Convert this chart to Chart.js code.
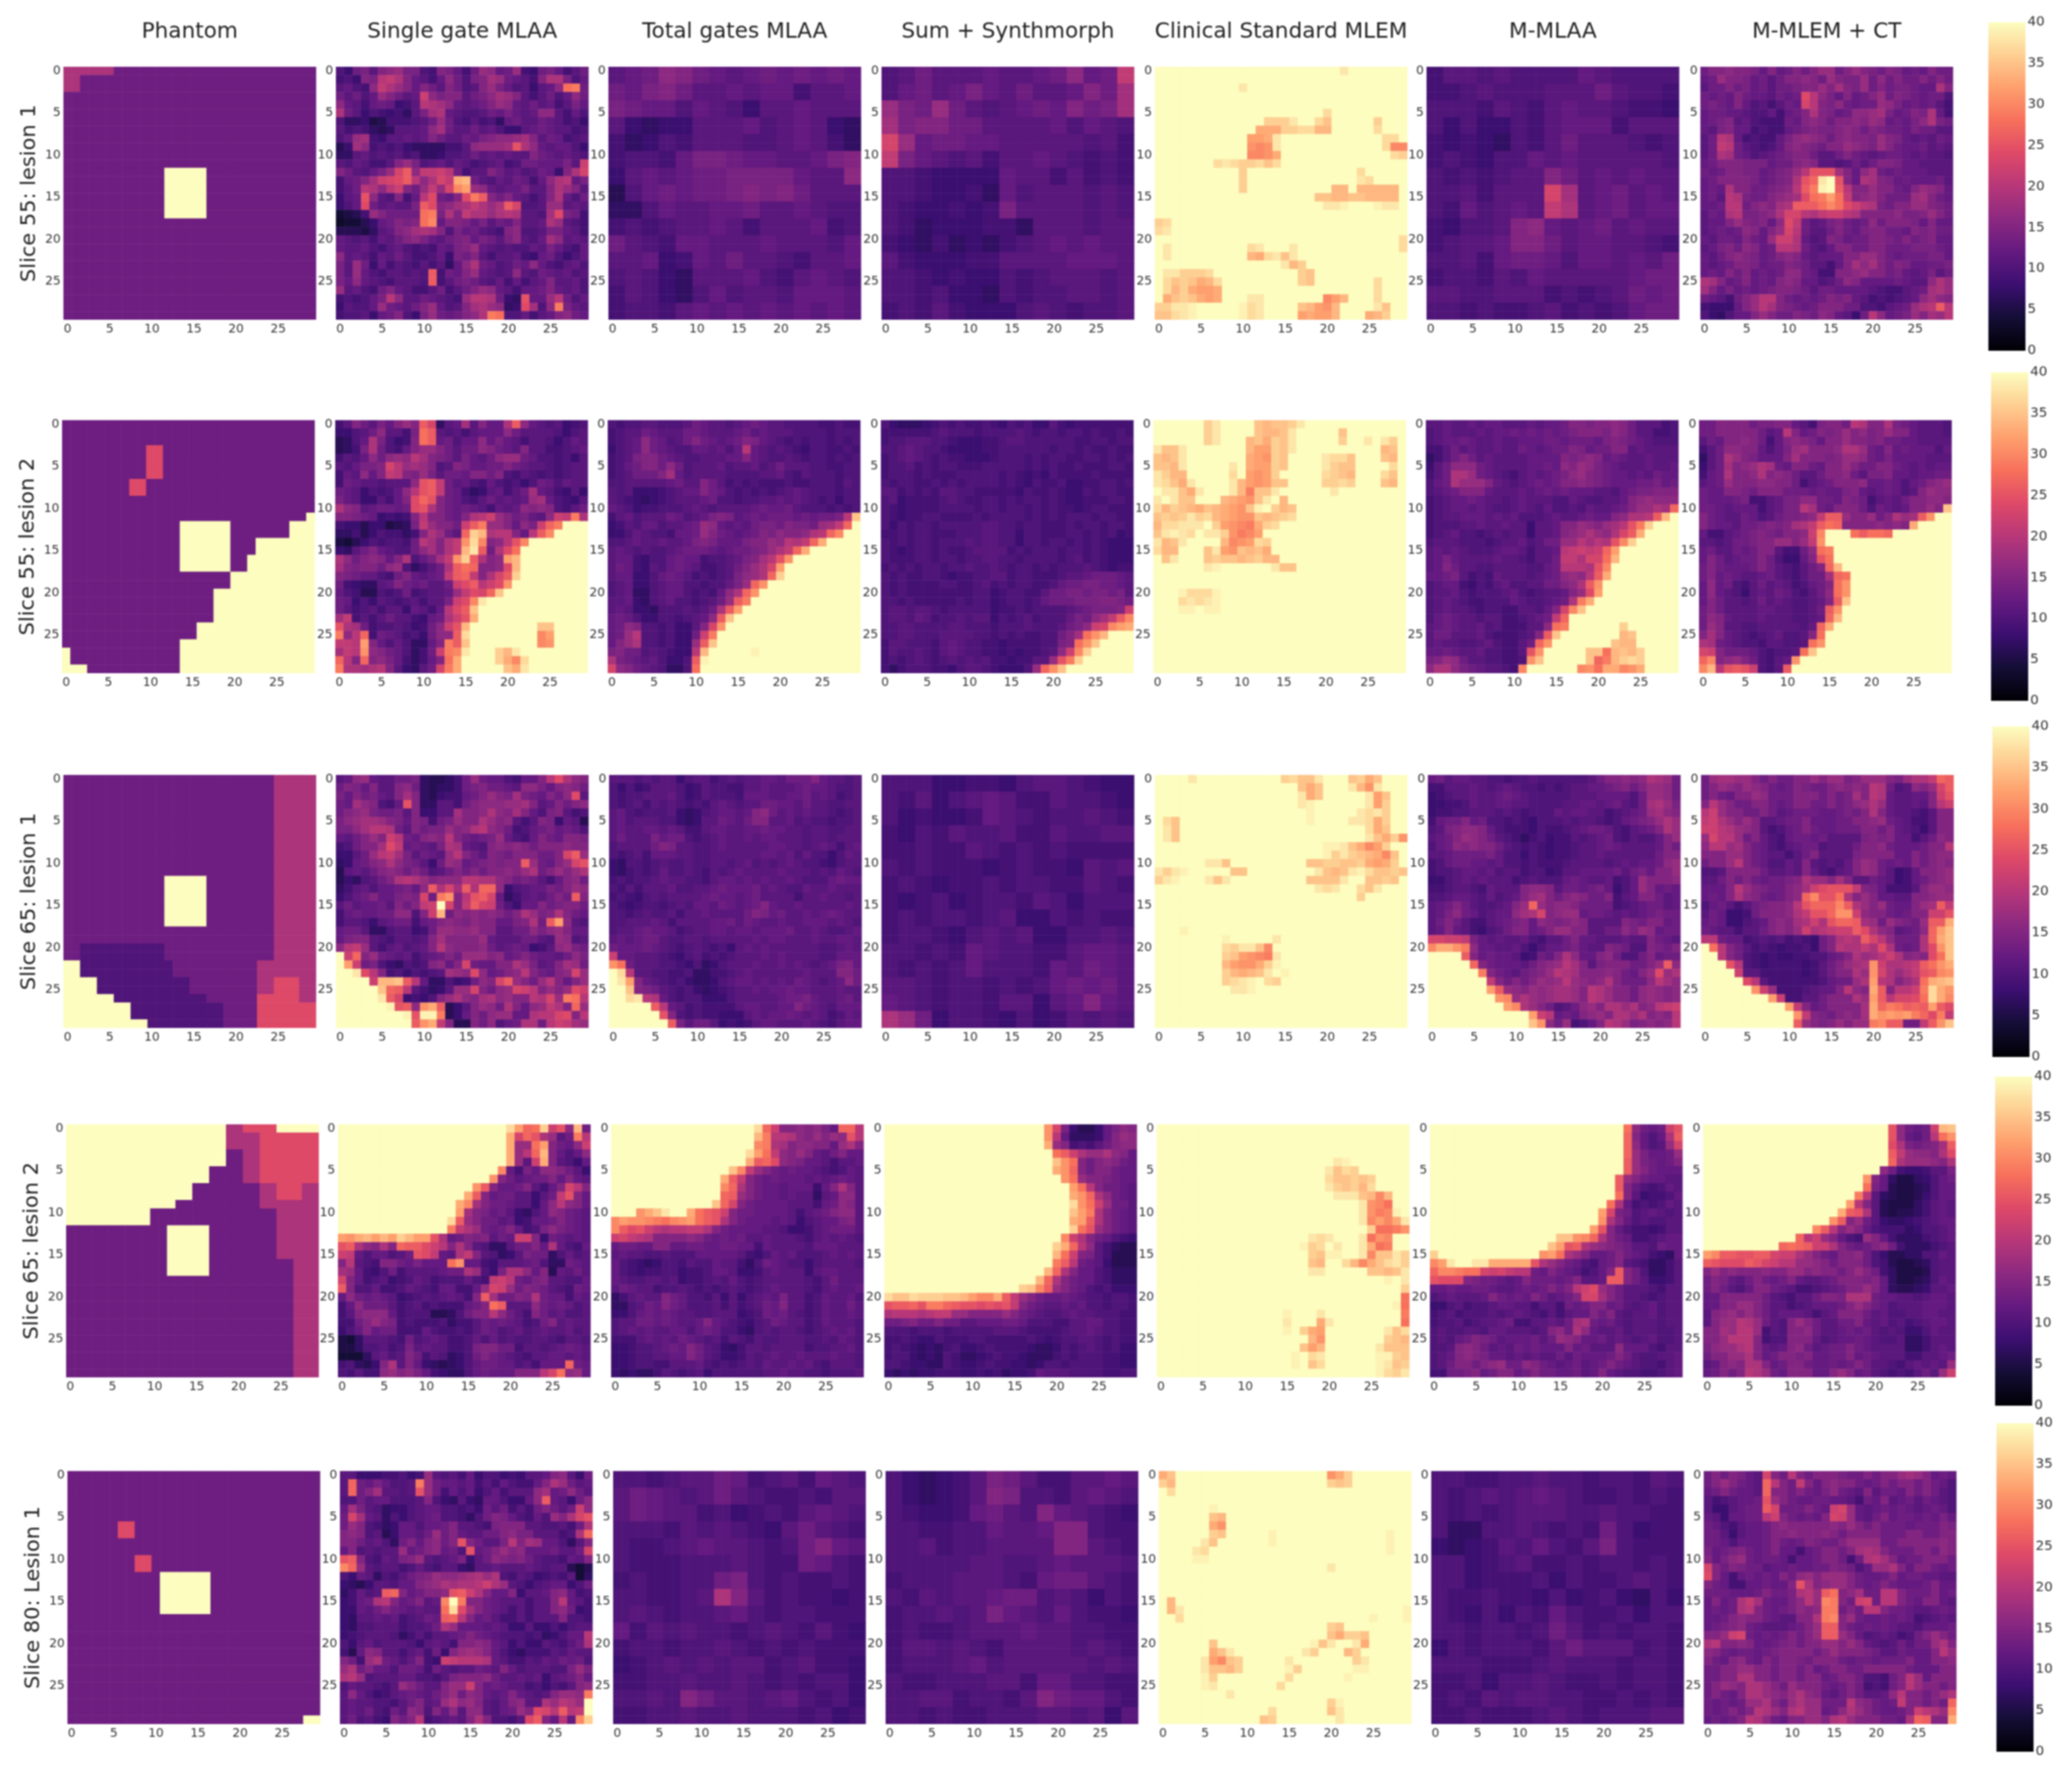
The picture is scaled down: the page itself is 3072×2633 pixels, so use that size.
<!DOCTYPE html>
<html><head><meta charset="utf-8">
<script src="https://cdn.jsdelivr.net/npm/chart.js@4"></script>
<style>html,body{margin:0;background:#fff;width:3072px;height:2633px;overflow:hidden}canvas{position:absolute;filter:blur(0.9px)}</style>
</head><body>
<script>
const columnTitles=["Phantom","Single gate MLAA","Total gates MLAA","Sum + Synthmorph","Clinical Standard MLEM","M-MLAA","M-MLEM + CT"];
const rowTitles=["Slice 55: lesion 1","Slice 55: lesion 2","Slice 65: lesion 1","Slice 65: lesion 2","Slice 80: Lesion 1"];
const tickValues=[0,5,10,15,20,25];
const colorbarTicks=[0,5,10,15,20,25,30,35,40];
// one character per cell, value = its index in CODES (0..40); 15-row tables were read in 2x2-cell blocks
const CODES="0123456789abcdefghijklmnopqrstuvwxyzABCDE";
function rep(n,spec){const s=spec.split(" ").map(t=>t[0].repeat(+t.slice(1))).join("");return Array(n).fill(s);}

const s55a_phantom=[...rep(1,"j6 d24"),...rep(2,"j2 d28"),...rep(9,"d30"),...rep(6,"d12 E5 d13"),...rep(12,"d30")];
const s55a_single=[
"a8deb fghee a9fec 9dhgc dh98d ec9bd","9a8fe kljfc b9cgd aefih dcb9f jjeac","bca9g ljhfc fdbfd abfhe cab8b cgstd","dbdac hfdbc mgeff bdegi hfb9b dacgd","gcb9c dc89b kjigc bcdfh gcbdb c9bec",
"jdb8a 9897b eijcb aabdc ecbcg gb9ca","a7785 6999a bdhda 9b9a7 cdbbd cb9a8","b9a97 67bbb cgidb bdbca 88bcd cbb9a","achi9 8bbcb cfdbb dcefg ghifb dc9ab","68ig9 a9a87 77799 bghhh ipjgc bcca8",
"77bca bab9a 778aa bdbcb cbbfd cbcba","bacb9 9bfhe abcac b9abc 9addc ccebm","fdbac ehnqg llmkd 9bbfd bcabd c8fjn","9cdfi mnoqk gjnlx ydbac bdc9c gjkce","9bdkj gkmfd hlhnu whgcb ccebb fjhfb",
"8bcpg baf9c kodcf otqfd fcb9b fjcad","8acod bcbbe qofgi jljhj qnaab hhbcb","4569h fdddd stejf ljjhj kjbba ioed9","34468 cdfef sucff ecebd cfbbc jhba9","66657 bcfgi jifae cdba9 fgaab eecb9",
"cbab9 cbdfg ecbde fcedb egbac igbcb","cbbca 9bca9 a9cbe fhcba baacb eca9c","gbcb9 cbdb9 9ac8e dfb9b bc98c da8ac","ebhd8 c9ba9 b9b7c gjdca bdcgc a9bca","ebhca 9bbab aq9dc fhcba bgbad cbcab",
"ecgcb a9bbb aq9bd edbac 9c9bc fbbca","hbca9 dfcb9 9bd9b dfhgc b9ccd fcbca","9a9ac ekgbb dcba9 hkkjd 87pcc hkdac","8baac hdcbd fhcab fijhg 78oia gtecb","9aab8 cdfa8 ehdcd fgjts aac9b cfgdc"];
const s55a_total=["bcdgf dcbcd cdcdc","dcefd bbcbc c9bbc","edcca cba8b bcbbb","b8788 bbbca bcb87","978a9 bbbaa bcb97","9aa9c eedcc bbcef","8bcbc ddeee ecbbg","6acdc ddefe fdbbb","77acb bccdb bcbaa","9a9ab bcb9b bbc9a","dba9c cbbbc bbbac","bbc89 cbdbb a9bbc","aba87 bbbca 9bcba","9ba87 acabb acccb","9aa9b cbcbc bcbcb"];
const s55a_synth=["abdbb bcbbc dgcdl","acdbc ecbdb bcfdi","hedhd babcd cfdei","ieffd dbbbb cacba","nhcdd ccbbb bbab9","lecba b9bbc ba9a9","aa988 88cbb 9b9a9","aa988 97cab bbaba","a9889 89ebb bbaba","a9788 8997b bbabb","98797 879ab cbcbb","b9888 99bbb bcccb","aa989 88a9a bbbab","aa9a8 87a9a abbab","9a9b9 888ab a9aab"];
const s55a_clinical=[
"EEEEE EEEEE EEEEE EEEEE EECEE EEEEE",
"EEEEE EEEEE EEEEE EEEEE EEEEE EEEEE",
"EEEEE EEEEE CEEEE EEEEE EEEEE EEEEE",
"EEEEE EEEEE EEEEE EEEEE EEEEE EEEEE",
"EEEEE EEEEE EEEEE EEEEE EEEEE EEEEE",
"EEEEE EEEEE EEEEE EEEEE BEEEE EEEEE",
"EEEEE EEEEE EEEAA ACEEB zEEEE EAEEE",
"EEEEE EEEEE EExxx AABBy yEEEE EBEEE",
"EEEEE EEEEE EwwxC EEEEE EEEEE EEBBE",
"EEEEE EEEEE EvuvC EEEEE EEEEE EEBuu",
"EEEEE EEEEE Euuvx EEEEE EEEEE EEEBA",
"EEEEE EEBCB AABzB EEEEE EEEEE EEEEE",
"EEEEE EEEEE AEEEE EEEEE EEEEB EEEEE",
"EEEEE EEEEE AEEEE EEEEE EEEEC BEEEE",
"EEEEE EEEEE AEEEE EEEEE EyyEy yyyyE",
"EEEEE EEEEE EEEEE EEEEz zyyzz yyyyE",
"EEEEE EEEEE EEEEE EEEEE CCDEE EDCCE",
"EEEEE EEEEE EEEEE EEEEE EEEEE EEEEE",
"ABEEE EEEEE EEEEE EEEEE EEEEE EEEEE",
"BCEEE EEEEE EEEEE EEEEE EEEEE EEEEE",
"EEEEE EEEEE EEEEE EEEEE EEEEE EEEEB",
"ECEEE EEEEE EBCEE ECEEE EEEEE EEEEB",
"ECEEE EEEEE EyxBC zCEEE EEEEE EEEEE",
"EEEEE EEEEE EEEEE CyAEE EEEEE EEEEE",
"ECCAA ABEEE EEEEE EEAzE EEEEE EEEEE",
"EBzAz xyBEE EEEEE EEAzE EEEEE EBEEE",
"EByAx wwxEE EEEEE EEEEE EEEEE EBEEE",
"ExzAz xwxEE ECCEE EEEEE uwyEE EBEEE",
"AACCD EEEEE DBCEE EEzyw vyEEE ECzEE",
"zzBCD EEEEE DBCEE EEwxw wyEEE xyAEE"];
const s55a_mlaa=["9bbab aaaac baaaa","99aba aabbb dbaa9","aaa9b a9bcb ba998","a8a88 a9bcc c9bbb","98987 a9bdb bba9a","9a98a acbcb bbbba","a9a9a bbfdb cbcbb","aab9b bbnib cdbcb","a9cab cbljb cdbcc","98aab fgcbc dbcbb","9abbc ffdbc cbba9","aab9c ddcac cbcbd","9aa9b acbbb bbcdd","bbaab bb9a9 abdcd","aa9a9 9ab9a 9acdd"];
const s55a_ct=[
"dffgf fecfc dfdfh hdfhf edfec dcfdd","cdhff ecdbd ffgfd hfeeh dgdfd dfdfd","bddfd ecdbd deffh fifeh dfdee dccjf","dcdcf dccbd cdokg ecfcd fhdfe dcdda","dedcf cab9b dcnkf egdcd dhgec dcdb9",
"cddcc baac9 cdfjf ecdgg hiecd fejc9","cdefb ca999 dcfgf dffgf hgcdc egjed","cbefc c9a99 cdefe efgfd feddc eddbb","bdkjc 9a99c eghgf dfgff ehfec bcbdc","bdlkd ba9ac fgfed ffhgf ehfdc cdbcb",
"bdjid cabcd effdb bdfdc bcddc bcbba","cdfff eeecd dfgfb babdb dffec cbbbb","dcdff eecde fhkpp pifcg idcdc ccbbb","cdfff fecde fjprC Epfcj ifecd cccdb","cdcjf fddef gkqtD Eqkff hffdc fhgfc",
"cdbkj eddfg hiost wslfg hfddd hifdc","ccdkk dfgfi jqqqs usomk jedff hhfed","bdcjk eefgj nnkjl mmkjf fffge efhfd","bccfh fefcg oldbc efdcd gdfff ecfcc","bcdcd gfcfh nkdbb dfdce ffddc fefdd",
"cbddc fdchm mjcab fecdd ffedf defcc","bcefd gfcdk kjdba cffdd ffddd eeedc","cbdfg fecdf gfcbc ccffh hfdcd ddeec","cbcdf fecdd fedbb 9cfig ifdfe ccdde","cdcfd fcdcd ggdc9 9ffgh ffdec bcebd",
"jifcd fcdcf gfcca bdgfc cccdc bbgjh","ifcec dcdef fedbd dcccc ba99b cdijh","dcb9d fhkkf dcdcd fefcb 9a9ab cgigf","9888c fhkif edcdf ffdda a9bcd hjkqk","a87ac cfhfd dfedg fcb8d kgcde hfihk"];

const s55b_phantom=[...rep(3,"d30"),...rep(4,"d10 o2 d18"),...rep(2,"d8 o2 d20"),...rep(2,"d30"),...rep(1,"d29 E1"),...rep(2,"d14 E6 d7 E3"),...rep(2,"d14 E6 d3 E7"),...rep(2,"d14 E6 d2 E8"),...rep(2,"d20 E10"),...rep(4,"d18 E12"),...rep(2,"d16 E14"),...rep(1,"d14 E16"),...rep(2,"E1 d13 E16"),...rep(1,"E3 d11 E16")];
const s55b_single=[
"9bfdb ecfhf qn7bc ibfcc jqgcb ab89a","88abd gbb9e sqbab 9bccc gdbbb ba8ab","67acj ea89f sqcda ccgce cb9bb a8acb","679ej da9cf hhfdb ddgfd cbfbb 99abc","9bacg dghgk ifedb ecbdg hhdca a9a8b",
"bacee fnkhi hfabf eccdd fdcbb a9abb","9cbgc flkfe hebdd cffdf a9ba9 a9abb","9dcbb abbbg pqldb ca9ca 9a8ad cacbb","dcb8a 9acgk pqldc 978bc 9bdic b98b8","ecb88 b9cfo rpfdc a9bdb cbchi ca98b",
"jgfbc ddcdo pjfdc dcb9c bcgfg fa9bd","ffedc 8989f kffdc fjkmh fdecb gmltj","98868 8567e lhffd mqthh fcgem rtEEE","77968 a9979 fjhdb rAyjk kfckq uEEEE","5468a 9aa9d kifjl vBufg kpuEE EEEEE",
"87bdf cbaad gifjl yCqdj osEEE EEEEE","jgdfg fcfja ceilv Aqjfg wyEEE EEEEE","ifeff dgha7 9bdjq srffg oyEEE EEEEE","fedcc a9dfc bcdlq rlfjn qAEEE EEEEE","d9877 bcfdc dbbdm oqkmo vEEEE EEEEE",
"ca966 a9ad9 abbch lonrz EEEEE EEEEE","dc8a8 ba9ab 9bbem ouCEE EEEEE EEEEE","db9ab 9bb8c b9cko qzEEE EEEEE EEEEE","il9b9 bdbb9 8cdjm pxEEE EEEEE EEEEE","pjid9 aaba8 9dgmp yEEEE EEEEz zEEEE",
"tgkr9 dcb9a 8dggq BEEEE EEEEu wEEEE","llkwf caca7 7cftq zEEEE EEEEu vEEEE","ilkvg fdca7 9dmtu CEEEA yCEEE EEEEE","rkfrf gec97 9cfsx EEEEA xuBEE EEEEE","tjjij kfb87 bdntx EEEEE zxCEE EEEEE"];
const s55b_total=[
"a9aab baaab dcbba bcdcb baaaa 99a99","9abbd cbbbd dcbbb cdbcb bbaaa a9aaa","9abcg dcabd fdcbc dfecb a9a9a a9a9a","8abcg dcbaa ccbca ckcba ba98a a99a9","9abef fdcba abbbc cfcba aba9a a9a9a",
"9acdf fdgda bbbca bbcab dbbba a99aa","9abdd dfica bbbba aaabb ca9ba aa9aa","aabbb bbcdb bfdb9 a9a99 9a99a aa9ba","bab88 89abc cfdca 9a9a9 abcba aa9aa","ba987 89abb bcdaa 9aabb cbcba 9a8aa",
"cba89 9aaab cbabb bbcdc cdbaa a9a9a","9bcab bbdca bcefe bcdcd ddcdc ddekz","89bac cabbc dhgcb cbdee dfeed hilrE","88acb aa9cc dhfdc bcdfe gffgj kruEE","aabcb bcbbc efecc ceffh gkjlr xEEEE",
"bcbab aabcd ddcbc ddefh jlrxE EEEEE","bcc98 aacdc c9aab cefik pvEEE EEEEE","bdc98 bacdc b99ab dfhjn wEEEE EEEEE","bcc88 acdcb 9a9ab eghjr AEEEE EEEEE","abc88 abcca a9aac ehrvE EEEEE EEEEE",
"abc77 abcca 9a9cg jrvEE EEEEE EEEEE","bbc87 abcaa 9abdh qtEEE EEEEE EEEEE","bcb88 7aaab abdjq wEEEE EEEEE EEEEE","cdca8 8aa9a bcgqz EEEEE EEEEE EEEEE","cdgfa a9a88 bfnvE EEEEE EEEEE EEEEE",
"cdhka a9a88 dmtEE EEEEE EEEEE EEEEE","cfhja a9a88 hqzEE EEEEE EEEEE EEEEE","efdda ba988 kyEEE EEDEE EEEEE EEEEE","jedcb ca88a qDEEE EEEEE EEEEE EEEEE","ngfdc ba77a sEEEE EEEEE EEEEE EEEEE"];
const s55b_synth=[
"a8777 89a9a 99a98 a9a88 b9899 99999","99999 9abaa a9aaa aba9a a9aa9 a99a9","9aabb baa98 8899a bbaaa aaa99 aa9aa","aabcb aa988 8899a aaaaa 9aa9a 99a99","9abcb a9a99 8889a aa9a9 aa99a a9a9a",
"9aab9 a9aa9 99aaa aa9a9 a99a9 99aa9","9aaa9 a999a aaaa9 a9898 a9999 a9999","a9aa9 9a9a9 aaaa9 a98a9 9a889 9aa9a","bb9a9 a9bba a9999 98a99 a988a 9aa99","ab899 99aba 99aa9 a9aa9 a9889 99aa9",
"a9899 99aaa a9aa9 aa9a9 a9989 aa999","a9899 aa999 9a9aa aa9a9 a9aaa 9aa99","a8a9a a9aaa aabba a9aa9 99a9a a9aa9","99a9a a999a aabba a8aa9 99aa9 a9a89","a9a9a a9aaa babba a8aa9 aa9a9 a9888",
"a989a a9a99 abbbb 9a9aa a9aa9 a9888","a999a a9aa9 aabba a9aaa a9ab9 a9888","9a9a9 aa9aa baaba 9aa9a 9aaab a9899","a9a99 aa989 9aabb 9aa99 9abbc dddcb","a9a99 99aa9 9ab9a 9aa99 acdde eddcb",
"a9a99 99999 9aa89 aa99b ddeed eedeb","aa9a9 9999a 9aa89 aa9ac dddee effed","abbab ba9aa aaa89 9a9aa aabcd eeefm","abbac b9aab abb8a 9ab9a aaced gilqu","aabba aaabb aaa9a aabaa abdeg mnuwx",
"aabba aabbb baa9a 9a99a adfis vyEEE","9bbaa a9bcb aa998 9999a aefsv zEEEE","9baab a9bcb aa998 9899a bgmuA EEEEE","9a9ab a9aba bab99 899bb hptAE EEEEE","979aa a998a bba98 88ahr vzEEE EEEEE"];
const s55b_clinical=[
"EEEEE EACEE EEzyz zACEE EEEEE EEEEE","EEEEE EACEE EEzyy zCEEE EEzEE EEEEE","EEEEE EACEE EyzxA zCEEE EEAEE CECAE","CzzCE EEEEE EywwA zCEEE EEEEE EEyzE","zyzCE EEEEE ExwvA zEEEE CBBzE EEzyE",
"zzyCE EEEEC ExwwA zEEEE CAzzE EEEBE","CAyyE EEEEB EwvwA EEEEE BAzyE EEBzE","CBzxC EEEEC ywvwz zEEEE AABAE EEzyE","ECCzx CEEEC ytzzC EEEEE ECEEE EEEEE","CECzz EEEyx wvzCE yEEEE EEEEE EEEEE",
"ByAzy xzyxw vzDEA yzEEE EEEEE EEEEE","zAzAC AByxw vvzyz ABEEE EEEEE EEEEE","yBBCC CEAwv utxAB EEEEE EEEEE EEEEE","zCDCB ECCAv tuwEE EEEEE EEEEE EEEEE","CyzCE EEEyu vwBAE EEEEE EEEEE EEEEE",
"ByyEE EzCwv zyzxE EEEEE EEEEE EEEEE","EzCEE EzAzz yzAyy EEEEE EEEEE EEEEE","EEEEE ECDEE EEEEC zzEEE EEEEE EEEEE",...rep(2,"E30"),"EEEDB BBDEE EEEEE EEEEE EEEEE EEEEE","EEEBC BCDEE EEEEE EEEEE EEEEE EEEEE","EEEDD EDDEE EEEEE EEEEE EEEEE EEEEE",...rep(7,"E30")];
const s55b_mlaa=[
"bbcbb cbccb bbcbc cdffe ffgfd bbb9a","abcbb bcbcc dcdcd cdeff fegfd bb99a","abccd cbbcb bcccd dcddd cefed cbaaa","99bdb cbbcb bdcbc ddfec ddffb cbbbb","79bdf dbcbb bbccc cfefg fcdcb bcbbb",
"8bdgg gdcbb bbccd cgfhg edcbb bcbbc","9bdjj hdcba 9bcbc deghf edccb cbdcc","acdjh hhfcb abcdc dffgf edccc ddecd","abcdf ffcbb bcbcd cdccc bbacd eefff","9abcc dcbba bcbbb aacba abbcf ghggg",
"9abcc bcbaa bcbac aabac bbcdf hhjir","9abbc ccbcb caaab cbbcd ccfgj jkqyE","9aaab bcbbc bb8bb cffhg fhikp tAEEE","9abca a9aba bb8bb cfghj hgjnq xEEEE","abbba aa9ab bcabd dhhki kjpuA EEEEE",
"bcbcb aaabc cb9bb cklml mrwEE EEEEE","bcecb bbbcb ba9bb dlljn nsyEE EEEEE","bcfdb baabb bbaac dkkkj puEEE EEEEE","ccdeb 9a9cb bbabc dghgk qxEEE EEEEE","abcc9 8a9bc aabbd dfgjq vEEEE EEEEE",
"abbca 9aaab ca9ab bcfho wEEEE EEEEE","abcba 99aaa cbaab cdjtx EEEEE EEEEE","abcbb a9aa9 9bbac fnuzE EEEEE EEEEE","acdcb babb9 9abcd lrEEE EEEEE EEEEE","bcdcb bcab9 99bbg stEEE EEEAE EEEEE",
"bddbb bca99 9abfq zEEEE EEEyz EEEEE","bcbba abca9 9bdrv EEEEE EEzyy EEEEE","ccdcb bcaa9 9bpvE EEEEz zsyzy AEEEE","efhgd bbaa9 9avzE EEEEz rtyAB AEEEE","gjjge dcbba 9uEEE EEEuv sxxuv xEEEE"];
const s55b_ct=[
"ddfff fdeef fcb9e ffdkj ffjed cbbba","ddfff ffdbc kfcdf efhfg efhff cbbba","bdcff gfd9c fgfec ffhff efddc cbbbb","9bdgg ffcac ehiff fgjjh dcfcd cccac","7bdjh feccc fifff efhhg dcecc ccbbb",
"8bdif ghjid cffdc ffhfd dffdc bcbcc","9cdjf fgjfg fdbbd ffgdb eefcc bccdd","bcdhf ffggf fd9bc dfffg ccdca cdfgh","dccff edfff dddcd ccefc bcdca bfhgg","dcccd e99bc eeggd dcfed 9bcbd ffggf",
"ddcbc cc9bc eekid cfffd adcbc ffhfz","fdcbb dcabd eefgl qqhff hdfjh iqvEE","fdccb ddefe fijlq srfff fgfgf xEEEE","c99bc defed ffgmu EEEsq ssrEE EEEEE","bbabd deffh hfhlv EEEEE EEEEE EEEEE",
"cdbbd cdffb 99dgs tEEEE EEEEE EEEEE","cfdbc ddfda 88cfp sEEEE EEEEE EEEEE","dfdcc cdfdb a9bdf ryEEE EEEEE EEEEE","dfcdc bbcdb a9bdd irsEE EEEEE EEEEE","cgcda 9bdbc b9acd fsvEE EEEEE EEEEE",
"cgcba 8bcbd ca9bd gsvEE EEEEE EEEEE","cfdbb abdbc baabc fqzEE EEEEE EEEEE","dfdbb bbccb baabd qvEEE EEEEE EEEEE","dgfcb bbcbb baabc ryEEE EEEEE EEEEE","dhfbb aabbb bbacr xEEEE EEEEE EEEEE",
"fifcb a9abc aabfs EEEEE EEEEE EEEEE","jidcb aa9bb aabsv EEEEE EEEEE EEEEE","nmfdd dca9a abszE EEEEE EEEEE EEEEE","rufgh fda9b cvEEE EEEEE EEEEE EEEEE","uykpq pma9b qEEEE EEEEE EEEEE EEEEE"];

const s65a_phantom=[...rep(12,"d25 j5"),...rep(6,"d12 E5 d8 j5"),...rep(2,"d25 j5"),...rep(2,"d2 a10 d13 j5"),...rep(2,"E2 a11 d10 j7"),...rep(2,"E4 a11 d8 j2 o3 j2"),...rep(1,"E6 a11 d6 o5 j2"),...rep(2,"E8 a11 d4 o7"),...rep(1,"E10 a9 d4 o7")];
const s65a_single=[
"bcghc bbdde 76679 dhdcc a9ccf kojgf","dfecf bbfgd 76779 defdd cbgge cfgfd","ecfde cbfif 76899 cdfhf eiedc fdgob","dcigf a9cpf 77bb9 dfggg hhifb cfdfg","dfghe ddebf 88bbi ffgjg fifca efb9a",
"eghii hfecf e9deh ffjhf gb9bf e8cb6","eegik kjdbf deehf gjkgf d9acd ecdca","cbdfh fmkdc fgfkf dcdeh ca9cf dcffe","9adff iolcd cbeji cbafg fgfdf ffgff","88bdh klieb dcbhk fdbfe dfffd dfnqh",
"78cdf gjged b8dhg cdefe ffqhd cfhnp","6bcbd fgfdf dabdf dfdff gfhjd fhfhj","687ab dfjkj hfggg kkjjg fdedb 9cfgd","79bca ccdec gqjni qjrrg 8abcc edfhg","8acdf ccefe ndtvf kpqnc 79bcb dfdqf",
"bdbcc dbfdf lmEnf lqnmd a8ccf deffd","9cdcc ddgga fmydg fgfgf dfjhe fjfdc","9bba8 bcdd9 cdfgf egffc cefjd qwgba","cddb7 7abb8 9dhhg ghffb bddge ghfcc","ceffb a9bba bfiff ffhcb bbddb ahgab",
"gklhb 9bcab cfkgf ffgdb cdc89 bghed","Emrfh dcbc9 bcdfd hhhfg cdfdc cbdge","Ewmde a87a9 afgcf ndccf fjheb cfihd","EECok f9a8a 9abih gogcd fgkfd cfgnh","EEEEm yyzqk c77a8 9dgfn qhfdh kfcfh",
"EEEEE zrqkb 978bh hnfdg hnmkf hfhom","EEEEE Cqn89 8afhj gfijg hffkj nhtsk","EEEEE EDpqg vxq68 bfhgd jfcgh ljfrh","EEEEE EEEDp DDt68 cfdgh hccjk knofk","EEEEE EEEEq vxlf6 6fdga cdjjd kmlih"];
const s65a_total=[
"bbbab abb8a bb9ab abbcc bdddf cbbab","a8a89 bbba8 9baa9 9bbcb bbcdc cbaab","a9aab bbca8 9baaa 9cccb bccdb cb9ab","a9ab9 baba9 a9bcb abbdd ccbdb baabb","bca9a aab87 8abcc bcfgd bcbcb ba9ab",
"bcabb baa87 8bbdc bdffb bcaba a9aab","bcbbc cbcb9 9bccb bccdc cbbab baabb","bdbbb ecdda 9abcb bcbcc bbbab babbb","abbbb dfebb aabcb bbbbc cbbab cb9bc","a9ab9 cccbb aabbb bbbcc bcaca a8acb",
"87aa9 abaab aabba bcaba bcbaa 98abb","879a9 acaab a9bab cbbbb cbbba bacba","9a9aa bcbba a9bcc bcbcb bcbaa acdcc","a9b9b bbcaa bbcdc ccdbc baacb bcbbb","9a98a babbb bcdcc bcdbb bb9bb cbbab",
"a989a a9aba ccbdc bcdfc bbcbb bbbcb","aa9ab aab9b bcbbb bdfec dbbcb cdcbb","aabbb cb9bb bbccd bdcbb cbbcc cbcba","abbcd ccb9a bbccb ccbcc cdbbc baabc","bcbcd dbaab babbb bbcbc cbbbc bbccb",
"dcccd cba9a ba9a8 bcbcb bbbbb aabcb","mccbb ba98a b9a9a bbbcb cbbbb aaccc","vsdbb baa98 a78ab bbcbb cbcba bcefc","EBkbb aa99a 7799a bcbbb bbbcb bbffd","ECwfc ba9a8 778ab ccbcb cbdcb abcgd",
"EEzfe dba9a 8789a bbcbc cdccb bbcbb","EEBCk jca9a a888a bbbbb cddec bbcdb","EEEEE qkcb9 a9999 bccbb ccfdc baccc","EEEEE Epfa9 a9988 8bcbc cdcbc b9acb","EEEEE EEqeb ddb89 89bcc bbbcb a9bcc"];
const s65a_synth=["aaa88 998ab ba988","a9b8a bcb99 baa98","a8988 9cba9 aaba9","98a9b aab99 baabb","99a99 ba9a9 a9999","a9a99 989a9 98bab","9a989 9a9aa 99ba9","989a8 9aa9b a8aaa","9a9aa 9ab88 a9a99","9aa98 abab8 8aaba","aa9a9 cbaa9 9bccb","a9a9a caaa9 cbdcb","bba9a a9a9a cdcdb","cba9a a9bb8 bcfcb","jhd8a a98a8 9baba"];
const s65a_clinical=[
"EEEEC EEEEE EEEEE ABzzC EEEzA xzEEE","EEEEE EEEEE EEEEE EEzxz EEECy vCEEE","EEEEE EEEEE EEEEE EECxz EEEEE CwzEE","EEEEE EEEEE EEEEE EECDE EEEEE CwAEE","EEEEE EEEEE EEEEE EEEDE EEEEC BCAEE",
"EBzEE EEEEE EEEEE EEEDE EEECC BxAEE","ECzEE EEEEE EEEEE EEEEE EEEEE BxzEE","ECzEE EEEEE EEEEE EEEEE EEEEE CzxAv","EEEEE EEEEE EEEEE EEEEE DDCzx uwAEE","EEEEE EEEEE EEEEE EEEEE DACAz yxuzE",
"EEEEE ECCzE EEEEE EEEzz AAzzA xwxAE","CACDE EEEEz zEEEE EEEEC zyzCD BzzAz","ACDEE ECzCE EEEEE EEEzz zzCEE zzAzE","EEEEE EEEEE EEEEE EEEEC BCEEB zCEEE","EEEEE EEEEE EEEEE EEEEE EEEEA EEEEE",
...rep(3,"E30"),"EEEDE EEEEE EEEEE EEEEE EEEEE EEEEE","EEEEE EEEDE EEEEC EEEEE EEEEE EEEEE","EEEEE EEEBA CCzuE EEEEE EEEEE EEEEE","EEEEE EEEAz wvutC EEEEE EEEEE EEEEE","EEEEE EEEyw vvxAD EEEEE EEEEE EEEEE","EEEEE EEEAy xyzCE DEEEE EEEEE EEEEE","EEEEE EEEAB CDEBA EEEEE EEEEE EEEEE","EEEEE EEEEC CDEEE EEEEE EEEEE EEEEE",...rep(4,"E30")];
const s65a_mlaa=[
"cdbcc bbaa9 aabaa aaaab dffgf gjihd","99bbb cbabc baa9a 9abbc cdefd fhhgd","89abb cbbcd cbaaa aabbb cccca dhhgd","8899a cbbcc bbaaa abbcc bcdba dijhe","899aa bbbab a9aaa cbccb b9abc dhigf",
"9cddf cdaa9 a98aa ababb a9acd efhjh","abefg gfca9 998a9 9abcd dca9b cdfjh","bcdfh gfdba 979a8 99bab cda9b aacfh","acdgf gffdb a9a98 99abb cdcbb bbcfd","bbcdd ddeca a8a98 99abb cbbbb bbdff",
"9acdd ccbca a9a99 9abbb babcb ccdgh","9aabc cbcab b9aa8 9bbcc ccdbd ecffh","88abc bcbbb 9abaa acdcb bc9ac hfffg","99abb a9cbb bfggf bddcd ec8ac hfcdc","aabcc bacab cfhif dfgfd df9bc ffdbc",
"bcdfd baabc fhrhf ggfdd dd9ab cddbc","bcegd cabcc gijnf ghhcd dcbcb cdedd","bdfdb 99bcd efcgf efgfb bbbfe dffcd","bcfcb 98abd ffcdf hhffb bddge hgcdd","nnmml ecbcb bca9b bdfcc bbbcb bfdcb",
"uxxvt gccbb ca8ac cdecb bfeda afedf","EEEEq fcdcc b89dc fjgcc fgdaa dfcdd","EEEEE rfdcc cbdfg hkifb efffd dfhqg","EEEEE Etfdc bdefh kjiff fgfdc fhohj","EEEEE EElfd fdfhg hkhgf gjfdd dgkig",
"EEEEE EEwqh gfhgh iihfk jhffd ghgfg","EEEEE EEEvu hjhgh iihfk jhffd ghgfg","EEEEE EEEEw ujhfd abdgh fjjhj fgklm","EEEEE EEEEE EEwmk cdcfg hfjjh jfgfk","EEEEE EEEEE EEzvg dh9ac fkjhe fgfgk"];
const s65a_ct=[
"dhiih hfdfd dffhf hhefh hhfeh jjlrq","dfhgf hgfdc dfedd fgfgf kjdab gfhnq","dfdcf fhgdd dfffd fdeif kjcbb ccfmp","fkhfd dffdc dffdd fdegh jhcbb cbfkm","kmhff ddfdb cdddc cdedf jfcbb a9bff",
"lmjhf hfbbc ddfcc cddff ghdcb 99bff","mmkjh gfb9a cdfdc cdddf fdfcb a8bff","hnkkh dfca9 cddcd bbbbe fefcc 9bdgf","gkkhi fdca9 bcdda bbbdf fgdcc cdffk","fffhh fdcbb 9bdfb bbbef fffcc fdfgg",
"dffhk fdcaa cbfba bacfh gdcdc fdfgf","aabff ffdbb cbfca 9bcfh gdb89 cffgh","bbdfd fdcdd efjhh fifbb dcb89 cdfgh","cccfk hfedd fgimo ppplf ec999 bfhhg","cdcfj gfdcd fgrup psjfh fccbb ffghh",
"acdb9 bdeff gkprr ruqjh fhdcc fhiql","bdc88 9dfff gjlpp rvvmg ffdcd ffmmp","cdc88 abcfg fijmj prrqi hdhfe dhqqx","dcbb9 bbdfg fhmjk lmmqo jgfbc dgrwz","kkdcc 9abab 9a98d fjkjq nkgdd djrxz",
"Eskfd b9a98 99a8d fkjjl jojdc djovz","EEkfd a9898 899aa cdfjh ikmjf gfosz","EEEpk a9899 9989b dfhij vmjjk lqsvx","EEEEm bb999 9989b dffjh vnjhj lpquv","EEEEE okb99 9999a cddhj wkjfh jsxyz",
"EEEEE Evmh9 99abc cfkgf xqfkk mtBxv","EEEEE EEEwm 99bbd fffjh wqknn osBxu","EEEEE EEEEE wlfcd ffffi xrtsq rqwqo","EEEEE EEEEE Evlfe dfgfi xvwvw trotl","EEEEE EEEEE Eqhfe fhfhh tuqqd dlqvz"];

const s65b_phantom=[...rep(1,"E19 j2 o4 E5"),...rep(2,"E19 j4 o7"),...rep(2,"E19 d2 j2 o7"),...rep(2,"E17 d4 j2 o7"),...rep(2,"E15 d8 j2 o3 j2"),...rep(1,"E13 d10 j7"),...rep(2,"E10 d15 j5"),...rep(4,"d12 E5 d8 j5"),...rep(2,"d12 E5 d10 j3"),...rep(12,"d27 j3")];
const s65b_single=[
"EEEEE EEEEE EEEEE EEEEE BwrsA mpgyd","EEEEE EEEEE EEEEE EEEEE xnrpj hbdtk","EEEEE EEEEE EEEEE EEEEE xhhsw fdcgm","EEEEE EEEEE EEEEE EEEEE xhkry fcacg","EEEEE EEEEE EEEEE EEEEE xhbmx fba8c",
"EEEEE EEEEE EEEEE EEEEu c9ecg gfdb8","EEEEE EEEEE EEEEE EEEvf dbcdd fcfcb","EEEEE EEEEE EEEEE Evqfc cdfb9 cfnkf","EEEEE EEEEE EEEEE xqfcd dbb8b dlpfc","EEEEE EEEEE EEEEx uifdd cbb8c gkgfc",
"EEEEE EEEEE EEEEw ifecd b87ac gfdcb","EEEEE EEEEE EEEBq hfddb c89cc dfdcb","EEEEE EEEEE EEEtl jhdcd fc9ae gedcb","wvxyw ywAyw wpjcd fefbd cmmf8 dcbcb","pqjgf jfrqq omkfj fba77 bddfc jca9c",
"mlcac cabdp olcbj lfba7 8bedd 7acab","fkba9 ffdce cccsv cc98b bbcda 77dcb","ihc98 ad9bb bbcdd jha8e jjgcf 6cbdb","nfc9a b89ac b9aaa ca9lm kdcef bbaac","qfaac 99acb a9cc9 9chnm hdfed ba9dc",
"cgdcd cb89a babcb 9fqid dfejd cc9cb","9cgdd db9ab 9a999 cdfsq bbbgd cdcab","9bfgg gc9aa a667a dffkg db9fd bcaab","99dfh fe9a9 99a79 9bdcd cb9ad fbcbb","8acfc dd999 ca99a 9bdca bcabc bbcab",
"547bb ba9da bcb99 acaca baabb a9bba","557aa b9aeb cbb99 aeffd d9bba bcdcb","4447b cabfd 9ba78 adfdc ba9bb ccbcb","9a768 fjbfc 87678 acddc cab9c ccrdc","a9b99 ghfge c9877 acdcc cfffk nsghc"];
const s65b_total=[
"EEEEE EEEEE EEEEE EEBrm ffgfg ecrrk","EEEEE EEEEE EEEEE EEytk kjgfh fhgpk","EEEEE EEEEE EEEEE EEutj ifggf fchjf","EEEEE EEEEE EEEEE EBwsl gfhfc bdfcc","EEEEE EEEEE EEEEE Exqro gfecc b9bbc",
"EEEEE EEEEE EEEEz ulhfd cdccb a9acb","EEEEE EEEEE EEExq lfdcd cccbc bcdcb","EEEEE EEEEE EEEur jfdcc bccc8 cfjfb","EEEEE EEEEE EEErq hfdcc bcbb7 bcggb","EEEEE EEEEE EEzrn fdccc cbbb9 cdgfb",
"EEEvx zCEEx sqpmf ddccc cb9bc dfggb","uwvvu tsuvw sqpjf dcccb cb8ab ccefb","uqopm kjkkl ljfdc cccbb a889b cdddb","mnlkj ffffg fdcdc dbbcb bba9b cbcba","cddcc ffccd dccdd cc9cb bbbac ccbbb",
"bcbba abaaa ccccc b98ac bcaaa bcbcb","ca987 8aa9b aacbb 97adc baa8a bbbba","ca989 9aa89 9accb 889bc bbb8b ccbbb","cbaab bab89 9abac a9abb bbba9 bdbbb","bdcbb 9aaba 9a9ab a9abc bbba9 bcbbc",
"79bcb bfdca a9b8b 8abcb ebb9a cbbca","77abd cfdca aab9b 9abdc fbb9a cbbdb","88acd cdcbb aabbb 89adc dba9a cbbcb","abbdd cdcbb cfcba 98abd cbb9a cbbba","abcbc bbcca cdcaa 87aba bba9a bcbca",
"999bc bcbdc bab9b a9baa bbbaa bacba","889aa bcdcf dba87 9bbab bbb9a abbca","889aa bbccf dba88 9babc bbcbb bcbba","889aa 99bbb ca9a9 abacb bcbca 9bbba","87877 9ba9a b8aaa aaabb cbbaa 9aaab"];
const s65b_synth=[
"EEEEE EEEEE EEEEE EEEEv ne866 8cegf","EEEEE EEEEE EEEEE EEEEv kc777 8cfhg","EEEEE EEEEE EEEEE EEEEx hf9a9 bdfgg","EEEEE EEEEE EEEEE EEEEE sqmjh hjgfc","EEEEE EEEEE EEEEE EEEEE zvsfd fgfdc",
"EEEEE EEEEE EEEEE EEEEE xvrfd ffdcc","EEEEE EEEEE EEEEE EEEEE Evshf fedcc","EEEEE EEEEE EEEEE EEEEE EEwsk fddcb","EEEEE EEEEE EEEEE EEEEE EExvr jgdcb","EEEEE EEEEE EEEEE EEEEE EEBvs mhddb",
"EEEEE EEEEE EEEEE EEEEE EEzwt jfdcb","EEEEE EEEEE EEEEE EEEEE EExwq jfdcb","EEEEE EEEEE EEEEE EEEEE EEAsp hfdcb","EEEEE EEEEE EEEEE EEEEE Eumjf dca98","EEEEE EEEEE EEEEE EEEEE Axrkg b9766",
"EEEEE EEEEE EEEEE EEEEE ysmfe b9666","EEEEE EEEEE EEEEE EEEEE tqkdc b8666","EEEEE EEEEE EEEEE EEEEy rjfcc a9777","EEEEE EEEEE EEEEE EEEyr jfdcc a9777","EEEEE EEEEE EEEEE EAzuq hfdca 9a888",
"BzzBA AAzzy wuuxq lhfdc cdcba a9aa9","pqqrp ttrqp popop lfdcb bcbca a9aa9","jkkkj kllhh ffffh fdcba abcbb aaa99","ddefd dfddb bcccd dcaaa 99bbc caa99","aaa9a aa9aa aaabb ba999 9abbc baa99",
"99a98 8a999 aa999 99a98 9aabb a9a99","9a987 879a8 89a99 99877 8a9ab a9a88","9aa87 87a97 789a9 98777 9a9aa a9988","aa988 77a98 89a99 8878a a9aaa a9988","87878 89998 89897 889cb bbaaa a99aa"];
const s65b_clinical=[...rep(4,"E30"),"EEEEE EEEEE EEEEE EEEEE ECDEE EEEEE","EEEEE EEEEE EEEEE EEEEE CzBAE EEEEE","EEEEE EEEEE EEEEE EEEEE BzzAz AEEEE","EEEEE EEEEE EEEEE EEEEE CAzAy BEEEE","EEEEE EEEEE EEEEE EEEEE ECCCz yuyEE","EEEEE EEEEE EEEEE EEEEE EEEEC vusEE",
"EEEEE EEEEE EEEEE EEEEE EEEEC vtuDE","EEEEE EEEEE EEEEE EEEEE EEEEC uwuxC","EEEEE EEEEE EEEEE EEEEE EEEEE Asstv","EEEEE EEEEE EEEEE EEECB CEEEC svuEE","EEEEE EEEEE EEEEE EEDAB ECEEC xstEE",
"EEEEE EEEEE EEEEE EEEAz DDEEC uzzCA","EEEEE EEEEE EEEEE EEEzy EEByu xzBCA","EEEEE EEEEE EEEEE EEECC EEEEE zzyzC","EEEEE EEEEE EEEEE EEEEE EEEEE EEDEC","EEEEE EEEEE EEEEE EEEEE EEEEE EEEEA",
"EEEEE EEEEE EEEEE EEEEE EEEEE EEEEs","EEEEE EEEEE EEEEE EEEEE EEEEE EEEDs","EEEEE EEEEE EEEEE DEEEC EEEEE EEEEt","EEEEE EEEEE EEEEE CEEEx CEEEE EEEEs","EEEEE EEEEE EEEEE DEAxw EEEEE EECzB",
"EEEEE EEEEE EEEEE EEEyv EEEEE EEAzy","EEEEE EEEEE EEEEE EEzwy EEEEE ECzzz","EEEEE EEEEE EEEEE EDEBC EEEEE EDDAz","EEEEE EEEEE EEEEE EDEzB EEEEE EDCzA","EEEEE EEEEE EEEEE EEEEE EEEEE EDBAC",
"EEEEE EEEEE EEEEB EEEEE EEEEE DCDzC","EEEEE EEEEE EEEEz CEEEE EEEEB ECDyy","EEEEE EEEEE EEEEz AEEEE EEEEB AECxx","EEEEE EEEEE EEEEE DEEEE EEEEB BDCww","EEEEE EEzzE EEEEE EEEEE EEDBz ACzBC"];
const s65b_mlaa=[
"EEEEE EEEEE EEEEE EEEEE EEEsg dcdmp","EEEEE EEEEE EEEEE EEEEE EEErf cacjq","EEEEE EEEEE EEEEE EEEEE EEErg cabhn","EEEEE EEEEE EEEEE EEEEE EEErh eccdh","EEEEE EEEEE EEEEE EEEEE EEEqh edcdf",
"EEEEE EEEEE EEEEE EEEEE EEEqh fdccc","EEEEE EEEEE EEEEE EEEEE EEqhf dccbb","EEEEE EEEEE EEEEE EEEEE EEqfc a9acb","EEEEE EEEEE EEEEE EEEEE EEsfb 899ac","EEEEE EEEEE EEEEE EEEEE Esjc9 a9acb",
"EEEEE EEEEE EEEEE EEEEE wneda bcbab","EEEEE EEEEE EEEEE EEEEE vjfca baabb","EEEEE EEEEE EEEEE EEEEw pfca9 989bb","EEEEE EEEEE EEEEE zzvur jfdc9 9abcc","EEEEE EEEEE EEEEz wpqjh gfedb badcc",
"AEEEE EEEEE EEEvw sjhfc cdfdc b987c","uwCEE CCxxx xxpjh fdca9 cdfba 9779b","ruuts snmnl kkdcf dcb9a cfqfd a779b","pooof eddcb cfddd cdfbb cqqfd b889b","ccdcc ddcbb cdcdf dfkmo hfdbb ba9bb",
"abcbb bcfdc dcfdb cdfnn ifdbb a9abb","88ab9 aabcc bb9bb 9dcdf fcdba bcabb","9ab9a aabab cba9b 9bccf dfbab bcabb","9aab9 abbcd 99bbc bdijd cdbab bbabb","abaab baccb bbabf gdjgc bbcab bbaab",
"abacd fedbc ccdbd hgfcc dbcba bcaab","aabfg fdbcb dcdcc cfcdb bbgcc ca9bb","abcfg feccb cbcbb dbdcc cdfdb aabbc","abdff dfghd dgfdc bcdbc dfdcb aa9bc","99dde fcdff cdfdd ccdbc fcbaa 99abc"];
const s65b_ct=[
"EEEEE EEEEE EEEEE EEEEE EEpgd cdmyz","EEEEE EEEEE EEEEE EEEEE EEpgc bdksv","EEEEE EEEEE EEEEE EEEEE EEoje defiq","EEEEE EEEEE EEEEE EEEEE EEqlh ggfjo","EEEEE EEEEE EEEEE EEEEE EErjh hhgfj",
"EEEEE EEEEE EEEEE EEEEE Egd98 89bbe","EEEEE EEEEE EEEEE EEEEv fc755 78acd","EEEEE EEEEE EEEEE EEEEs ec655 67acc","EEEEE EEEEE EEEEE EEEtk b7655 68acc","EEEEE EEEEE EEEEE EEwkf b6555 79bcb",
"EEEEE EEEEE EEEEE Exqpj b6566 79bcb","EEEEE EEEEE EEEEE vqfhd b8778 9abcc","EEEEE EEEEE EEEuq kfhfc a9997 8aabc","EEEEE EEEEE Erkmh fca9h fc977 79abc","EEEEE EEEEr srqmm jfdcd fgd97 779ab",
"wuqqp pqqnm mjhfd cffgd a8667 7aacb","qpooo qpnmk khhgf dfffd a9655 67abb","fhfgf ffgff hhfgf fdfhf d9755 56abb","dfecb dfdcd fcbbc dfffe fc755 67acb","dfdba cffdc b99ab cdffh fc766 78bbc",
"ccfff ffdba 9bbdf fejjj dccbb abccb","ccffh hfdbb 9abcc cdfhf dcabb bcccb","bfghf hfdbc ccb9b cfffd bcaab bccbb","bfhhk jhdba fhfdb bddfc bcab9 abccb","ffihk kh9ba ffgdb bcdcd baba8 8acbb",
"ffhkk kf9aa fffca bccdc baab7 79bbb","eghhj kfcbc fgdbc ddfdc bbbb7 79bcb","dffhh jfcdf fefcc ddfcd cbbb9 9bbcd","bcfgf jjfcd ffdcc dcdfd bba9b cbcbh","cdfdf kjhdc fffcc fhfcd ba9a9 bdbhm"];

const s80a_phantom=[...rep(6,"d30"),...rep(2,"d6 o2 d22"),...rep(2,"d30"),...rep(2,"d8 o2 d20"),...rep(5,"d11 E6 d13"),...rep(12,"d30"),...rep(1,"d28 E2")];
const s80a_single=[
"bb888 99a89 hbab9 c8aa8 98bbc fgb8d","brdce caabt hdccb c9b9c a99cf jhdbc","brdfi bbabp hd9ca c8ac9 bbbgi cdgdb","aadbc caaab fa87b 87cca 88cgq cb8dg","cieba 788ab ccaa9 a8dbd 9b9df dbdmg",
"dnicb 7a8ab cdaa9 7adfe ca9ca hfjnp","dhfa9 78cca ccdfb ba9ef ffbba ab9dj","fgfab 68ccb dhdfc bbddf geebb b9ajr","ffdbc a7dfc fgdfp fdbbe kfihc ca7bf","cfaba bbhcd fgcda pcdfh fgccc dbbdn",
"pqfa9 cbefh babce 8bdgf efdba a9cbf","urhba bb9ac a9bb8 7bbcb bbcba bb646","a8cb7 a9bde fhggh ijhja 9ba89 a9b47","8768b baccf ghjij jkmjh ba8ab cc8ad","79cab qrfcd ffgpq mjfcc f8bbc fgc9a",
"89cdj kfcdf bcuEt ffdcb bb9bb fkcb9","88cbd fdcbc bbsBo ifdcb 9b9bb fgd89","87bbc bc9ab dcqrk fcdb9 9b9bb bfaa9","87aab bb9aa bdjhc ccbcb 88b88 a8abb","89abb ba79b 9bbcd fdcba aa9a7 8acck",
"a8bca bbba8 bcb9f fgfcb 8a88b a9bdj","96cgf bb9bc 9d8fh ihfca 87999 bacbb","fd9hj dcacf 98mlk kkjcb 99bac bdcda","hjdfc caddc 9dbab bdcbf cabbb aaehe","jkhab bbcca a9bef ffgdb bcbc8 bcdfc",
"acbba 9bhfd bbfhh mfcdc bb9a8 a9bfg","bgca8 9bcdc bdfhd gfcbc fcbab fhhgt","bcbba a9bdf bchjg hfbac fgbbj hkjhE","bcbda 9dbgf afcgb ggbac dhfon kqklE","bdab9 8fdfk 9abcb fjfaa 9boqf ckcuA"];
const s80a_total=["aa9ab bdc9a b9cba","bdcba bdba9 9a9bb","bdcbb 9a89a 9bcba","aaa9b aba98 bdba9","a99ab cbba9 adfcb","a999a aaba9 9dca9","9a99a adea9 a99a9","aa99a bjfb9 a9989","aba9a abca9 aa999","c9bab aa9ab a9b98","9aa9a aba9a 9a999","89aba babb9 ab998","99aab aaba9 a9aa8","aabaf dbbab ca9a8","99aab aabaa a9a89"];
const s80a_synth=["a8789 bedb9 9bbcb","a8789 bfeaa 9bcba","a9889 cdbaf cba98","aa99a acbbc ffa99","aab9a abbbb ffba9","aaaaa bbaab cbbba","9aaab bba9c ddba9","a9bab bcdda ba8a9","9aaba becba ca998","9a99a bbbcb baa99","9bbab a9bbb baba9","9aaab cabbb bbaba","a99aa abb9c caa99","aabb9 aa9bf dcca9","aa9a9 9aaab bab8b"];
const s80a_clinical=[
"xzEEE EEEEE EEEEE EEEEE vxAEE EEEEE","AyEEE EEEEE EEEEE EEEEE AzAEE EEEEE","EBEEE EEEEE EEEEE EEEEE EEEEE EEEEE","EEEEE EEEEE EEEEE EEEEE EEEEE EEEEE","EEEEE EDEEE EEEEE EEEEE EEEEE EEEEE",
"EEEEE EzyEE EEEEE EEEEE EEEEE EEEEE","EEEEE ExvEE EEEEE EEEEE EEEEE EEEEE","EEEEE EAzEE EEEDE EEEEE EEEEE EEDEE","EEEEE CzEEE EEEDE EEEEE EEEEE EEDEE","EEEEC BEEEE EEEEE EEEEE EEEEE EEDEE",
"EEEED DEEEE EEEEE EEEEE EEEEE EEEEE","EEEEE EEEEE EEEEE EEEEE CEEEE EEEEE",...rep(3,"E30"),
"EyEEE EEEEE EEEEE EEEEE EEEEE EEEEE","EyCEE EEEEE EEEEE EEEEE EEEEE EEEED","EEBEE EEEEE EEEEE EEEEE EEEEE DEEED","EEEEE EEEEE EEEEE EEEEE AzEEE EEEEE","EEEEE EEEEE EEEEE EEEEE zxAAz EEEEE",
"EEEEE EzEEE EEEEE EEEDz CEECx EEEEE","EEEEE ExzCE EEEEE EECAE EEyAE EEEEE","EEEEE CwuzA EEEEE CEEEE EEEAC EEEEE","EEEEE CzzyA EEEEE DAEEE EEEDD EEEEE","EEEEE DAEEE EEEEE BEEEE EEDEE EEEEE",
"EEEEE DCEEE EEEEB EEEEE EEEEE EEEEE","EEEEE EEECE EEEEE EEEEE EEEEE EEEEE","EEEEE EEEEE EEEEE EEEEE ADEEE EEEEE","EEEEE EEEEE EEEBE EEEEE zCEEE EEEEE","EEEEE EEEEE EEzAE EEEEE ECEEE EEEEE"];
const s80a_mlaa=["aa99a abaa9 aa9ba","a9aba bcba9 9a9a9","a9a9a bbbaa baa99","a77aa ba9a9 da899","8789b aca9b ea999","aa89a b99a9 aa9a9","aa899 9a8a9 9aba9","a99a9 98a89 a87a8","a98a8 a9ca9 9a8aa","aa9aa 9adb9 a9aa9","8a9aa a9bdb bb9a9","aaa99 9abaa a9aa9","99a8a aba99 a9aa9","9a9ba bbaa9 9a9a9","99a99 9aba9 aaabb"];
const s80a_ct=[
"dfdfe cbnfd kfdff feddf dffhi hfcdc","dfhfd cbrkf dlfcf gffdc dfdff dfdca","cdfdc cbrff dfdce gdcbf bddcf dfdba","b9abc cdphf dccdd ccb9d cfbcd bdcba","b88bc ddqnd ddfdc mnhcb cdcdc bcdca",
"cb8cc ddkmf dcdcf nmhcb dfcdd cdcec","dca9b ccdfg fffff gfhfd fdddc dddfe","ddb8b ccdff gfffg fdfff fdddf fddff","ddcac ccdfd cdfed dfhhh hddff fffgf","ecdef dcdfc c9cdf fdfij ifddd ffdgf",
"fcegh dcddc 9ccdf fd9dj kifcd dfffd","nfdfe ddbcc dccdd fedac hhjfc ffdcd","ofc9c dcdcf dghfh hhfdc cdfcd dccbb","fdc99 ccdcc fpjfg hhfdc dfdcc cdfcc","dddcc cdfdd ejkhq sfgid dkkfd ddfcd",
"cfcdj lidcc egkhu tfdmn dkkfd cffcb","cdcdj kfdcd egfgt tdfdk kfddc bbcdc","ccdfg ffdcb bffjt ufhdc cdcdc 9abcb","cdefg dcbbb cdfhq qfdcd cdcbb acccd","ffhmn dcdcd fdfhq qhfca bcb9a dfhfd",
"jkffg fccde fdffh hfhfc babdb ddhjf","gfdcd dcdef fffdf hfffe dbbdc ccfkh","fdcfg dcfdf fedff fdcdd cdddf ccffg","ddffh hffdf fdfcd ffddf ffffd cccff","ddffj jffdf fdffc dffda a9dfk hcfff",
"dfhgf jjhfd hfffd cdfd9 a9dfk hffdf","dfdcf jjhgf hjgfc bdfdb bcgkf fdfhj","dcdcd hhjfd hjhhd ddkgf dcdlf fdfdr","dcdfd fkjhf jkhhc dgjhf dccdf mkjhu","cdcdf kjgdc ffhhf jkhff fddcj rqffx"];

const panels=[
[s55a_phantom,s55a_single,s55a_total,s55a_synth,s55a_clinical,s55a_mlaa,s55a_ct],
[s55b_phantom,s55b_single,s55b_total,s55b_synth,s55b_clinical,s55b_mlaa,s55b_ct],
[s65a_phantom,s65a_single,s65a_total,s65a_synth,s65a_clinical,s65a_mlaa,s65a_ct],
[s65b_phantom,s65b_single,s65b_total,s65b_synth,s65b_clinical,s65b_mlaa,s65b_ct],
[s80a_phantom,s80a_single,s80a_total,s80a_synth,s80a_clinical,s80a_mlaa,s80a_ct]];
const plotLeft=[[94,498,902,1307,1712,2115,2521],[92,497,901,1306,1710,2114,2519],[94,498,903,1307,1712,2117,2522],[98,501,906,1311,1715,2120,2525],[100,504,909,1313,1718,2122,2526]];
const plotTop=[99,623,1149,1667,2181];
const barBox=[[2948,33,520],[2952,552,1039],[2954,1077,1567],[2958,1596,2084],[2960,2110,2597]];
const PLOT=375,BARW=55;
const magma=["#000004","#140e36","#3b0f70","#641a80","#8c2981","#b73779","#de4968","#f7705c","#fe9f6d","#fecf92","#fcfdbf"];
function hex(h){return [1,3,5].map(i=>parseInt(h.substr(i,2),16));}
function cmap(v){const t=Math.min(1,Math.max(0,v/40))*10,i=Math.min(9,Math.floor(t)),f=t-i,a=hex(magma[i]),b=hex(magma[i+1]);return `rgb(${a.map((c,k)=>Math.round(c+(b[k]-c)*f)).join(",")})`;}
function decode(rowsIn){
 const rows=rowsIn.slice();const n=rows.length>=20?30:15;
 while(rows.length<n)rows.push(rows[rows.length-1]);
 const out=[],k=30/n;
 rows.slice(0,n).forEach((r,y)=>{let s=r.replace(/\s/g,"");s=s.padEnd(n,s[s.length-1]);
  for(let x=0;x<n;x++){let v=CODES.indexOf(s[x]);if(v<0)v=12;for(let a=0;a<k;a++)for(let b=0;b<k;b++)out.push({x:x*k+b,y:y*k+a,v});}});
 return out;}
function mk(left,top,w,h){const c=document.createElement("canvas");c.width=w;c.height=h;c.style.left=left+"px";c.style.top=top+"px";c.style.width=w+"px";c.style.height=h+"px";document.body.appendChild(c);return c;}
const tickFont={family:"'DejaVu Sans'",size:18};
panels.forEach((row,r)=>row.forEach((rows,c)=>{
 const first=c===0,top=r===0;
 const yW=first?90:34,padT=12,titleH=top?71:0;
 const w0=yW+PLOT+3,h0=padT+titleH+PLOT+40;
 const cv=mk(plotLeft[r][c]-yW,plotTop[r]-padT-titleH,w0,h0);
 const pts=decode(rows);
 const chart=new Chart(cv,{type:"scatter",data:{datasets:[{data:pts,parsing:false,clip:0,pointStyle:"rect",pointRadius:(PLOT/30+0.6)/Math.SQRT2,pointBorderWidth:0,pointBackgroundColor:pts.map(p=>cmap(p.v))}]},
 options:{responsive:false,maintainAspectRatio:false,animation:false,events:[],layout:{padding:{top:padT,right:3,left:0,bottom:0}},
 plugins:{legend:{display:false},tooltip:{enabled:false},title:{display:top,text:columnTitles[c],color:"#222",fullSize:false,font:{family:"'DejaVu Sans'",size:32,weight:"normal",lineHeight:1.25},padding:{top:0,bottom:31}}},
 scales:{x:{type:"linear",min:-0.5,max:29.5,grid:{display:false,drawTicks:false},border:{display:false},afterBuildTicks:s=>{s.ticks=tickValues.map(v=>({value:v}));},afterFit:s=>{s.height=40;},ticks:{font:tickFont,color:"#333",padding:4,maxRotation:0,autoSkip:false,callback:v=>String(v)}},
 y:{type:"linear",reverse:true,min:-0.5,max:29.5,grid:{display:false,drawTicks:false},border:{display:false},afterBuildTicks:s=>{s.ticks=tickValues.map(v=>({value:v}));},afterFit:s=>{s.width=yW;},ticks:{font:tickFont,color:"#333",padding:4,autoSkip:false,callback:v=>String(v)},title:{display:first,text:rowTitles[r],color:"#222",font:{family:"'DejaVu Sans'",size:31,weight:"normal",lineHeight:1.2},padding:{top:21,bottom:0}}}}}});
 for(let i=0;i<3;i++){const a=chart.chartArea,dw=PLOT-(a.right-a.left),dh=PLOT-(a.bottom-a.top);if(Math.abs(dw)<0.5&&Math.abs(dh)<0.5)break;chart.resize(chart.width+Math.round(dw),chart.height+Math.round(dh));}
 const a=chart.chartArea;cv.style.left=(plotLeft[r][c]-a.left)+"px";cv.style.top=(plotTop[r]-a.top)+"px";
}));
barBox.forEach(([x,t,b])=>{
 const pad=16,h=b-t;
 const cv=mk(x,t-pad,BARW+44,h+2*pad);
 new Chart(cv,{type:"bar",data:{labels:[""],datasets:[{data:[[colorbarTicks[0],colorbarTicks[colorbarTicks.length-1]]],barPercentage:1,categoryPercentage:1,backgroundColor:ctx=>{const a=ctx.chart.chartArea;if(!a)return magma[5];const g=ctx.chart.ctx.createLinearGradient(0,a.bottom,0,a.top);magma.forEach((m,i)=>g.addColorStop(i/10,m));return g;}}]},
 options:{responsive:false,maintainAspectRatio:false,animation:false,events:[],layout:{padding:{top:pad,bottom:pad,left:0,right:0}},plugins:{legend:{display:false},tooltip:{enabled:false}},
 scales:{x:{display:false},y:{position:"right",min:0,max:40,grid:{display:false,drawTicks:false},border:{display:false},afterBuildTicks:s=>{s.ticks=colorbarTicks.map(v=>({value:v}));},afterFit:s=>{s.width=44;},ticks:{font:{family:"'DejaVu Sans'",size:20},color:"#333",padding:3,autoSkip:false,callback:v=>String(v)}}}}});
});
</script>
</body></html>
